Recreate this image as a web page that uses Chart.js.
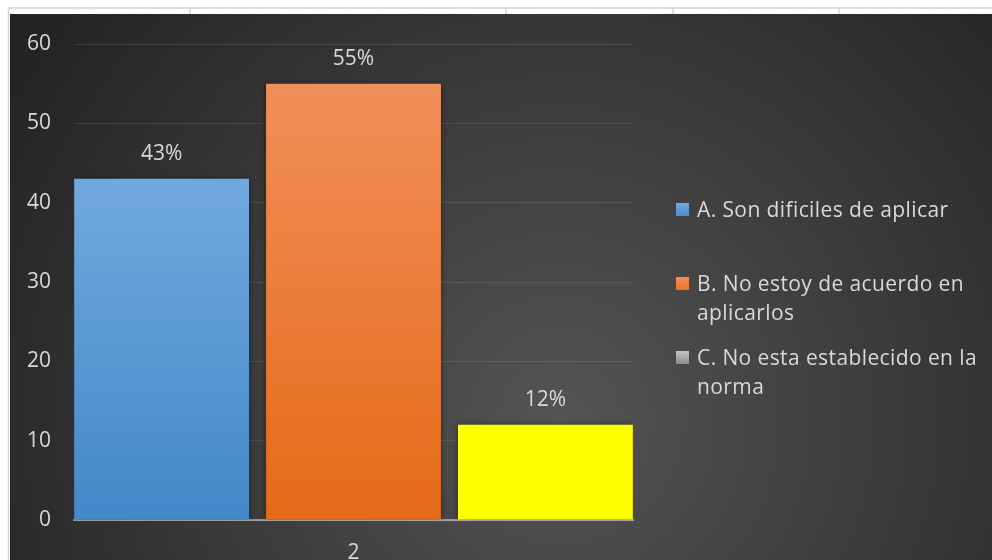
<!DOCTYPE html>
<html>
<head>
<meta charset="utf-8">
<script src="https://cdn.jsdelivr.net/npm/chart.js@4.4.1/dist/chart.umd.min.js"></script>
<style>
    html, body { margin: 0; padding: 0; background: #ffffff; }
    #chart { display: block; }
</style>
</head>
<body>
<canvas id="chart" width="992" height="560"></canvas>
<script>
const categories = ['2'];
const seriesNames = ['A. Son dificiles de aplicar', 'B. No estoy de acuerdo en aplicarlos', 'C. No esta establecido en la norma'];
const seriesValues = [[43], [55], [12]];
const legendLines = [['A. Son dificiles de aplicar'], ['B. No estoy de acuerdo en', 'aplicarlos'], ['C. No esta establecido en la', 'norma']];
const yTicks = [0, 10, 20, 30, 40, 50, 60];

const textColor = '#d9d9d9';
const fontFamily = '"Open Sans", "Noto Sans", sans-serif';
// top/bottom gradient stops per series, null = flat colour
const barColors = [['#71a9de', '#4388c9'], ['#f18f5a', '#e56a17'], ['#ffff00', null]];
const legendColors = [['#72aadf', '#4a8dcd'], ['#f39058', '#ec761f'], ['#c4c4c4', '#8c8c8c']];

const barFill = (i) => (c) => {
    let [top, bottom] = barColors[i];
    let area = c.chart.chartArea;
    if (!bottom || !area || c.raw == null) return top;
    let y = c.chart.scales.y.getPixelForValue(c.raw);
    let g = c.chart.ctx.createLinearGradient(0, y, 0, area.bottom);
    g.addColorStop(0, top);
    g.addColorStop(1, bottom);
    return g;
};

const backgroundPlugin = {
    id: 'sheetBackground',
    beforeDraw: (chart) => {
        let ctx = chart.ctx;
        ctx.save();
        ctx.fillStyle = '#ffffff';
        ctx.fillRect(0, 0, chart.width, chart.height);
        // spreadsheet cell lines peeking out above/left of the chart
        ctx.strokeStyle = '#d4d4d4';
        ctx.lineWidth = 1.5;
        ctx.beginPath();
        ctx.moveTo(8, 8); ctx.lineTo(chart.width, 8);
        ctx.moveTo(8.5, 8); ctx.lineTo(8.5, chart.height);
        [190, 506, 673, 839].forEach(x => { ctx.moveTo(x, 7); ctx.lineTo(x, 14); });
        ctx.stroke();
        let g = ctx.createRadialGradient(560, 420, 0, 560, 420, 640);
        g.addColorStop(0, '#545454');
        g.addColorStop(1, '#242424');
        ctx.fillStyle = g;
        ctx.fillRect(10, 14, chart.width - 10, chart.height - 14);
        ctx.restore();
    }
};

const shadowPlugin = {
    id: 'barShadow',
    beforeDatasetDraw: (chart) => {
        chart.ctx.save();
        chart.ctx.shadowColor = 'rgba(0,0,0,0.45)';
        chart.ctx.shadowBlur = 7;
    },
    afterDatasetDraw: (chart) => chart.ctx.restore()
};

const valueLabelPlugin = {
    id: 'valueLabels',
    afterDatasetsDraw: (chart) => {
        let ctx = chart.ctx;
        ctx.save();
        ctx.font = `21px ${fontFamily}`;
        ctx.fillStyle = textColor;
        ctx.textAlign = 'center';
        ctx.textBaseline = 'alphabetic';
        chart.data.datasets.forEach((ds, i) => {
            chart.getDatasetMeta(i).data.forEach((bar, j) => {
                ctx.fillText(`${ds.data[j]}%`, bar.x, bar.y - 19);
            });
        });
        ctx.restore();
    }
};

const legendPlugin = {
    id: 'sideLegend',
    afterDraw: (chart) => {
        let ctx = chart.ctx;
        ctx.save();
        ctx.font = `21px ${fontFamily}`;
        ctx.letterSpacing = '0.4px';
        ctx.fillStyle = textColor;
        ctx.textBaseline = 'alphabetic';
        ctx.textAlign = 'left';
        let baseline = 217;
        legendLines.forEach((lines, i) => {
            let g = ctx.createLinearGradient(0, baseline - 14, 0, baseline - 1);
            g.addColorStop(0, legendColors[i][0]);
            g.addColorStop(1, legendColors[i][1]);
            ctx.fillStyle = g;
            ctx.fillRect(676, baseline - 14, 13, 13);
            ctx.fillStyle = textColor;
            lines.forEach((line, k) => ctx.fillText(line, 697, baseline + k * 29));
            baseline += 74;
        });
        ctx.restore();
    }
};

new Chart(document.getElementById('chart'), {
    type: 'bar',
    data: {
        labels: categories,
        datasets: seriesNames.map((name, i) => ({
            label: name,
            data: seriesValues[i],
            backgroundColor: barFill(i),
            borderWidth: 0,
            categoryPercentage: 1.03,
            barPercentage: 0.911
        }))
    },
    options: {
        responsive: false,
        animation: false,
        layout: { padding: { top: 44, right: 359, left: 0, bottom: 0 } },
        plugins: {
            legend: { display: false },
            tooltip: { enabled: false }
        },
        scales: {
            x: {
                z: 1,
                grid: { display: false, drawTicks: false },
                border: { display: true, color: 'rgba(255,255,255,0.45)', width: 2 },
                ticks: { color: textColor, font: { family: fontFamily, size: 21 }, padding: 20 },
                afterFit: (scale) => { scale.height = 40; }
            },
            y: {
                min: 0,
                max: 60,
                afterBuildTicks: (scale) => { scale.ticks = yTicks.map(v => ({ value: v })); },
                grid: { color: 'rgba(255,255,255,0.1)', lineWidth: 1, drawTicks: false },
                border: { display: false },
                ticks: { color: textColor, font: { family: fontFamily, size: 21 }, padding: 23 },
                afterFit: (scale) => { scale.width = 74; }
            }
        }
    },
    plugins: [backgroundPlugin, shadowPlugin, valueLabelPlugin, legendPlugin]
});
</script>
</body>
</html>
